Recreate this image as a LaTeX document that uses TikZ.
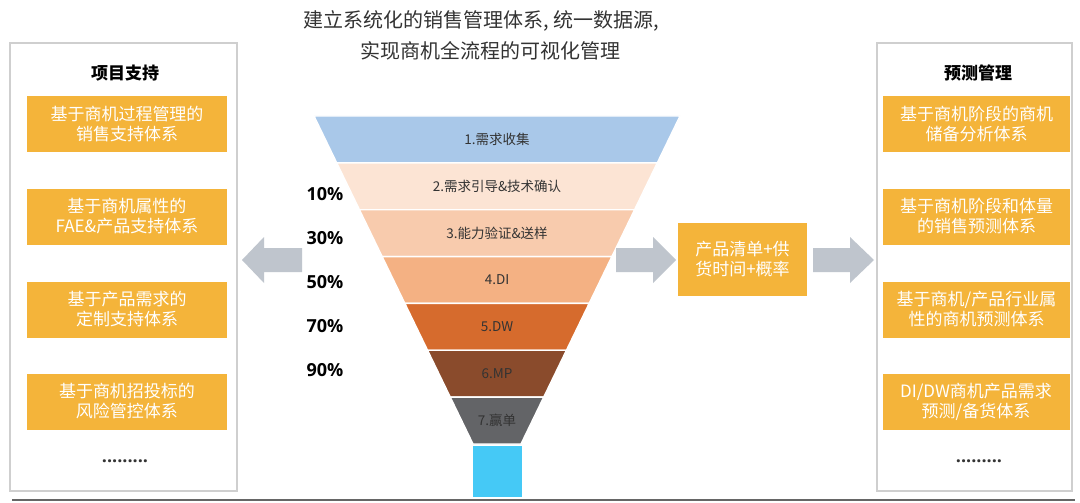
\documentclass[tikz,border=0pt]{standalone}
\usepackage{fontspec}
\setmainfont{Noto Sans CJK SC}
\newfontfamily\pctfont{Open Sans}
\definecolor{boxorange}{HTML}{F4B43A}
\definecolor{panelgray}{HTML}{CFCFCF}
\definecolor{arrowgray}{HTML}{BFC5CD}
\definecolor{txtdark}{HTML}{333333}
\definecolor{cA}{HTML}{A9C8E9}
\definecolor{cB}{HTML}{FCE4D4}
\definecolor{cC}{HTML}{F8CBAD}
\definecolor{cD}{HTML}{F4B183}
\definecolor{cE}{HTML}{D66B2D}
\definecolor{cF}{HTML}{8A4B2C}
\definecolor{cG}{HTML}{636467}
\definecolor{baseblue}{HTML}{45C9F6}
\begin{document}
\begin{tikzpicture}[x=1pt,y=-1pt,
  panel/.style={draw=panelgray,line width=1.2pt,minimum width=227pt,minimum height=448pt,inner sep=0pt},
  paneltitle/.style={font=\fontsize{17}{20}\selectfont\bfseries,text=black},
  obox/.style={fill=boxorange,text=white,align=center,inner sep=0pt,minimum height=56pt,font=\fontsize{17}{20}\selectfont},
  ftext/.style={text=txtdark,font=\fontsize{13.5}{16}\selectfont},
  pct/.style={font=\pctfont\bfseries\fontsize{18}{20}\selectfont,text=black},
  dots/.style={font=\pctfont\bfseries\fontsize{18}{20}\selectfont,text=txtdark},
  titletext/.style={text=txtdark,font=\fontsize{20}{24}\selectfont},
  blockarrow/.style={fill=arrowgray}
]
\useasboundingbox (0,0) rectangle (1080,503);
\fill[white] (0,0) rectangle (1080,503);

% title
\node[titletext] (t1) at (481,21) {建立系统化的销售管理体系, 统一数据源,};
\node[titletext] (t2) at (490,51) {实现商机全流程的可视化管理};

% left panel
\node[panel] (lp) at (123.5,267) {};
\node[paneltitle] (lt) at (125,73) {项目支持};
\node[obox,minimum width=200pt] (l1) at (127,124) {基于商机过程管理的\\销售支持体系};
\node[obox,minimum width=200pt] (l2) at (127,216.5) {基于商机属性的\\FAE\&产品支持体系};
\node[obox,minimum width=200pt] (l3) at (127,309.5) {基于产品需求的\\定制支持体系};
\node[obox,minimum width=200pt] (l4) at (127,401.5) {基于商机招投标的\\风险管控体系};
\node[dots] (ld) at (125,461) {.........};

% right panel
\node[panel,minimum width=195pt] (rp) at (974.5,267) {};
\node[paneltitle] (rt) at (978,73) {预测管理};
\node[obox,minimum width=187pt] (r1) at (976.5,124) {基于商机阶段的商机\\储备分析体系};
\node[obox,minimum width=187pt] (r2) at (976.5,216.5) {基于商机阶段和体量\\的销售预测体系};
\node[obox,minimum width=187pt] (r3) at (976.5,309.5) {基于商机/产品行业属\\性的商机预测体系};
\node[obox,minimum width=187pt] (r4) at (976,401.5) {DI/DW商机产品需求\\预测/备货体系};
\node[dots] (rd) at (979,461) {.........};

% funnel
\foreach \i/\c/\t in {1/cA/{1.需求收集},2/cB/{2.需求引导\&技术确认},3/cC/{3.能力验证\&送样},4/cD/{4.DI},5/cE/{5.DW},6/cF/{6.MP},7/cG/{7.赢单}}{
  \pgfmathsetmacro\yt{116+46.857*(\i-1)}
  \pgfmathsetmacro\yb{\yt+46.857}
  \pgfmathsetmacro\wt{183-0.48476*(\yt-116)}
  \pgfmathsetmacro\wb{183-0.48476*(\yb-116)}
  \pgfmathsetmacro\ym{(\yt+\yb)/2}
  \filldraw[fill=\c,draw=white,line width=1.4pt] (497-\wt,\yt) -- (497+\wt,\yt) -- (497+\wb,\yb) -- (497-\wb,\yb) -- cycle;
  \node[ftext] (f\i) at (497,\ym) {\t};
}
\node[fill=baseblue,minimum width=49pt,minimum height=51pt,inner sep=0pt] (base) at (497.5,471.5) {};

% percentages
\node[pct] (p10) at (325,194) {10\%};
\node[pct] (p30) at (325,238) {30\%};
\node[pct] (p50) at (325,282) {50\%};
\node[pct] (p70) at (325,326) {70\%};
\node[pct] (p90) at (325,370) {90\%};

% middle box
\node[obox,minimum width=129pt,minimum height=73pt] (mid) at (742.5,259.5) {产品清单+供\\货时间+概率};

% block arrows
\fill[blockarrow] (302,248) -- (264,248) -- (264,237) -- (242,260) -- (264,283) -- (264,272) -- (302,272) -- cycle;
\fill[blockarrow] (616,248) -- (653,248) -- (653,237) -- (676,260) -- (653,283) -- (653,272) -- (616,272) -- cycle;
\fill[blockarrow] (813,248) -- (850,248) -- (850,237) -- (874,260) -- (850,283) -- (850,272) -- (813,272) -- cycle;

% bottom rule
\coordinate (bl) at (12,500);
\coordinate (br) at (1075,500);
\draw[line width=1.2pt,color=black!60] (bl) -- (br);
\end{tikzpicture}
\end{document}
